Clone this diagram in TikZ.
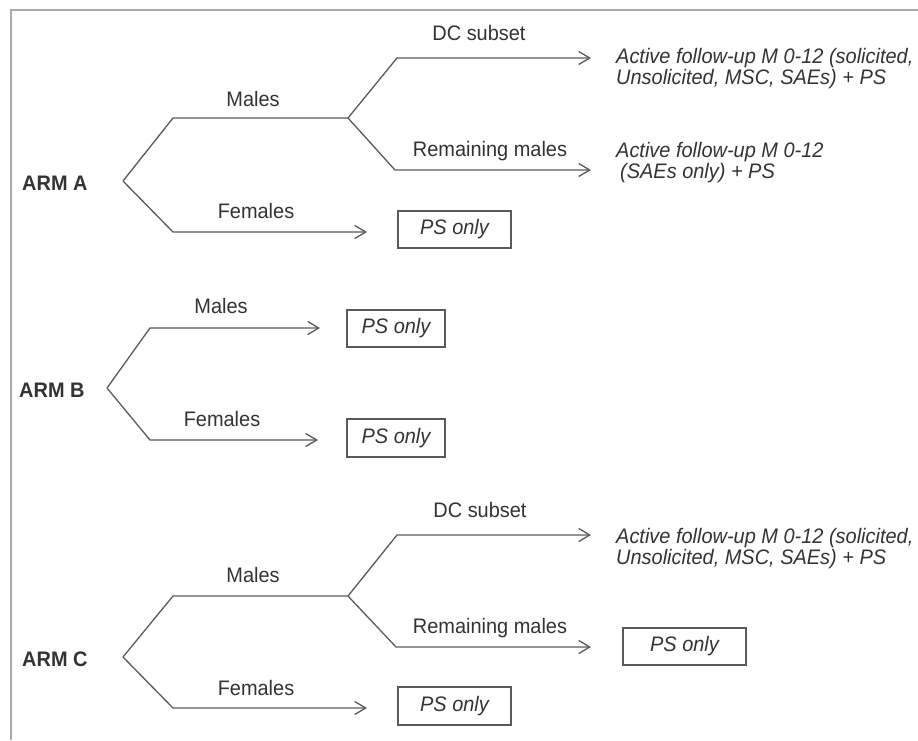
\documentclass[tikz,border=0pt]{standalone}
\usepackage{fontspec}
\setmainfont{Liberation Sans}[FakeStretch=0.95]
\usetikzlibrary{arrows.meta}
\definecolor{ln}{HTML}{5A5A5A}
\definecolor{tx}{HTML}{333333}
\definecolor{frm}{HTML}{AAAAAA}
\begin{document}
\begin{tikzpicture}[x=1pt,y=-1pt,
  lbl/.style={font=\fontsize{21}{20}\selectfont, text=tx, inner sep=0, anchor=base},
  armlbl/.style={font=\fontsize{21}{20}\selectfont\bfseries, text=tx, inner sep=0, anchor=base west},
  res/.style={font=\fontsize{21}{20}\selectfont\itshape, text=tx, inner sep=0, anchor=base west},
  psbox/.style={draw=ln, line width=1.2pt, font=\fontsize{21}{20}\selectfont\itshape, text=tx, minimum height=37pt, inner sep=0},
  br/.style={draw=ln, line width=1.3pt},
  arr/.style={br, -{Straight Barb[length=11pt,width=13pt,line width=1.3pt]}}
]
\fill[white] (0,0) rectangle (918,740);
\useasboundingbox (0,0) rectangle (918,740);
\draw[frm, line width=2pt] (11,740) -- (11,10) -- (918,10);

% ---------- ARM A ----------
\node[armlbl] (armA) at (22,190) {ARM A};
\coordinate (aA) at (123,181);
\coordinate (aMc) at (173,118);
\coordinate (aFk) at (348,118);
\coordinate (aDCc) at (397,58);
\coordinate (aDCt) at (591,58);
\coordinate (aRc) at (395,170);
\coordinate (aRt) at (591,170);
\coordinate (aFc) at (173,232);
\coordinate (aFt) at (367,232);
\draw[br] (aA) -- (aMc) -- (aFk);
\draw[arr] (aFk) -- (aDCc) -- (aDCt);
\draw[arr] (aFk) -- (aRc) -- (aRt);
\draw[arr] (aA) -- (aFc) -- (aFt);
\node[lbl] (aML) at (253,106) {Males};
\node[lbl] (aDCL) at (479,40) {DC subset};
\node[lbl] (aRL) at (490,156) {Remaining males};
\node[lbl] (aFL) at (256,218) {Females};
\node[res] (aDCR) at (616,63) {\begin{tabular}[t]{@{}l@{}}Active follow-up M 0-12 (solicited,\\Unsolicited, MSC, SAEs) + PS\end{tabular}};
\node[res] (aRR) at (616,157) {\begin{tabular}[t]{@{}l@{}}Active follow-up M 0-12\\\hspace{4pt}(SAEs only) + PS\end{tabular}};
\node[psbox, minimum width=113pt] (aFB) at (454.5,229.5) {PS only};

% ---------- ARM B ----------
\node[armlbl] (armB) at (19,397) {ARM B};
\coordinate (bA) at (107,388);
\coordinate (bMc) at (150,328);
\coordinate (bMt) at (320,328);
\coordinate (bFc) at (150,440);
\coordinate (bFt) at (318,440);
\draw[arr] (bA) -- (bMc) -- (bMt);
\draw[arr] (bA) -- (bFc) -- (bFt);
\node[lbl] (bML) at (221,313) {Males};
\node[lbl] (bFL) at (222,426) {Females};
\node[psbox, minimum width=98pt] (bMB) at (396,328.5) {PS only};
\node[psbox, minimum width=98pt, minimum height=38pt] (bFB) at (396,438) {PS only};

% ---------- ARM C ----------
\node[armlbl] (armC) at (22,666) {ARM C};
\coordinate (cA) at (123,657);
\coordinate (cMc) at (173,596);
\coordinate (cFk) at (348,596);
\coordinate (cDCc) at (397,535);
\coordinate (cDCt) at (591,535);
\coordinate (cRc) at (396,647);
\coordinate (cRt) at (591,647);
\coordinate (cFc) at (173,708);
\coordinate (cFt) at (367,708);
\draw[br] (cA) -- (cMc) -- (cFk);
\draw[arr] (cFk) -- (cDCc) -- (cDCt);
\draw[arr] (cFk) -- (cRc) -- (cRt);
\draw[arr] (cA) -- (cFc) -- (cFt);
\node[lbl] (cML) at (253,582) {Males};
\node[lbl] (cDCL) at (480,517) {DC subset};
\node[lbl] (cRL) at (490,633) {Remaining males};
\node[lbl] (cFL) at (256,695) {Females};
\node[res] (cDCR) at (616,543) {\begin{tabular}[t]{@{}l@{}}Active follow-up M 0-12 (solicited,\\Unsolicited, MSC, SAEs) + PS\end{tabular}};
\node[psbox, minimum width=123pt] (cRB) at (684.5,646.5) {PS only};
\node[psbox, minimum width=113pt, minimum height=38pt] (cFB) at (454.5,706) {PS only};
\end{tikzpicture}
\end{document}
